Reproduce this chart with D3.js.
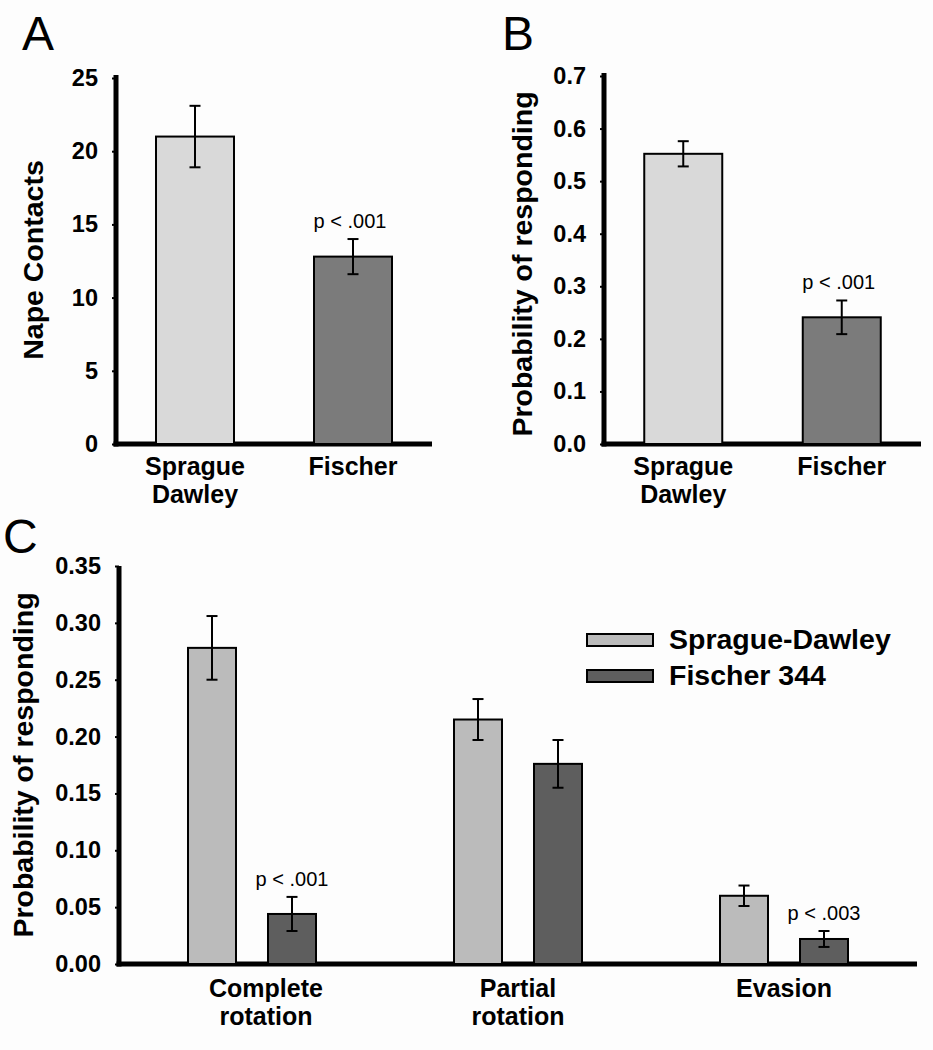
<!DOCTYPE html>
<html>
<head>
<meta charset="utf-8">
<script src="https://cdn.jsdelivr.net/npm/d3@7"></script>
<style>
  body { margin: 0; background: #fdfdfd; }
  svg { display: block; }
  text { font-family: "Liberation Sans", Arial, sans-serif; fill: #000; }
</style>
</head>
<body>
<div id="main"></div>
<script>
// panel A / B : two strains
const strainsAB = [["Sprague", "Dawley"], ["Fischer"]];
const napeMean = [21.0, 12.8];
const napeErr = [2.1, 1.2];
const napeTicks = [0, 5, 10, 15, 20, 25];

const probMean = [0.552, 0.241];
const probErr = [0.024, 0.032];
const probTicks = [0, 0.1, 0.2, 0.3, 0.4, 0.5, 0.6, 0.7];

const pLabelsAB = [null, "p < .001"];

// panel C : response types x strains
const responseTypes = [["Complete", "rotation"], ["Partial", "rotation"], ["Evasion"]];
const seriesC = ["Sprague-Dawley", "Fischer 344"];
const sdMeanC = [0.278, 0.215, 0.060];
const sdErrC = [0.028, 0.018, 0.009];
const fMeanC = [0.044, 0.176, 0.022];
const fErrC = [0.015, 0.021, 0.007];
const pLabelsC = ["p < .001", null, "p < .003"];
const ticksC = [0, 0.05, 0.10, 0.15, 0.20, 0.25, 0.30, 0.35];

const ctx = { w: 933, h: 1050 };

const svg = d3.select("#main").append("svg")
    .attr("width", ctx.w)
    .attr("height", ctx.h);

svg.append("rect")
    .attr("width", ctx.w).attr("height", ctx.h)
    .attr("fill", "#fdfdfd");

function drawAxes(g, x0, x1, y, ticks, fmt, yTop) {
    let axis = d3.axisLeft(y)
        .tickValues(ticks)
        .tickFormat(fmt)
        .tickSize(4)
        .tickPadding(14);
    let ax = g.append("g")
        .attr("transform", `translate(${x0},0)`)
        .call(axis);
    ax.select(".domain").remove();
    ax.selectAll(".tick line").attr("stroke", "#000").attr("stroke-width", 2);
    ax.selectAll(".tick text")
        .style("font-size", "23.5px")
        .style("font-weight", "bold")
        .attr("fill", "#000");
    // thick axis lines
    g.append("line")
        .attr("x1", x0).attr("x2", x0)
        .attr("y1", yTop).attr("y2", y(0) + 2.5)
        .attr("stroke", "#000").attr("stroke-width", 5);
    g.append("line")
        .attr("x1", x0 - 2.5).attr("x2", x1)
        .attr("y1", y(0)).attr("y2", y(0))
        .attr("stroke", "#000").attr("stroke-width", 5);
}

function drawBar(g, cx, w, y, mean, err, fill) {
    g.append("rect")
        .attr("x", cx - w / 2)
        .attr("y", y(mean))
        .attr("width", w)
        .attr("height", y(0) - y(mean))
        .attr("fill", fill)
        .attr("stroke", "#000")
        .attr("stroke-width", 2);
    let top = y(mean + err), bot = y(mean - err);
    g.append("line")
        .attr("x1", cx).attr("x2", cx).attr("y1", top).attr("y2", bot)
        .attr("stroke", "#000").attr("stroke-width", 2);
    [top, bot].forEach(v => {
        g.append("line")
            .attr("x1", cx - 5.5).attr("x2", cx + 5.5).attr("y1", v).attr("y2", v)
            .attr("stroke", "#000").attr("stroke-width", 2);
    });
}

function catLabel(g, cx, yBase, lines) {
    let t = g.append("text")
        .attr("text-anchor", "middle")
        .style("font-size", "25px")
        .style("font-weight", "bold");
    lines.forEach((l, i) => {
        t.append("tspan").attr("x", cx).attr("y", yBase + i * 28).text(l);
    });
}

function pLabel(g, cx, yBase, txt) {
    g.append("text")
        .attr("x", cx).attr("y", yBase)
        .attr("text-anchor", "middle")
        .style("font-size", "20px")
        .text(txt);
}

function yTitle(g, x, cy, txt) {
    g.append("text")
        .attr("transform", `translate(${x},${cy}) rotate(-90)`)
        .attr("text-anchor", "middle")
        .style("font-size", "28.5px")
        .style("font-weight", "bold")
        .text(txt);
}

function panelLetter(g, x, y, txt) {
    g.append("text")
        .attr("x", x).attr("y", y)
        .style("font-size", "48px")
        .text(txt);
}

// two-bar panel (A, B)
function twoBarPanel(opts) {
    let g = svg.append("g");
    let x = d3.scaleBand()
        .domain(d3.range(strainsAB.length))
        .range([opts.x0, opts.x1]);
    let y = d3.scaleLinear()
        .domain([0, opts.max])
        .range([opts.y0, opts.yMax]);
    drawAxes(g, opts.x0, opts.x1, y, opts.ticks, opts.fmt, opts.yMax - 3);
    const fills = ["#d9d9d9", "#7b7b7b"];
    opts.mean.forEach((m, i) => {
        let cx = x(i) + x.bandwidth() / 2;
        drawBar(g, cx, 78, y, m, opts.err[i], fills[i]);
        catLabel(g, cx, opts.y0 + 31, strainsAB[i]);
        if (pLabelsAB[i]) pLabel(g, cx - 3, y(m + opts.err[i]) - 11, pLabelsAB[i]);
    });
    yTitle(g, opts.titleX, opts.titleY, opts.title);
    panelLetter(g, opts.letterX, 50, opts.letter);
}

twoBarPanel({
    x0: 116, x1: 432, y0: 444, yMax: 78, max: 25,
    ticks: napeTicks, fmt: d3.format("d"),
    mean: napeMean, err: napeErr,
    title: "Nape Contacts", titleX: 43, titleY: 260,
    letter: "A", letterX: 22
});

twoBarPanel({
    x0: 604, x1: 921, y0: 444, yMax: 76, max: 0.7,
    ticks: probTicks, fmt: d3.format(".1f"),
    mean: probMean, err: probErr,
    title: "Probability of responding", titleX: 532, titleY: 264,
    letter: "B", letterX: 502
});

// panel C
(function () {
    let g = svg.append("g");
    let x0 = 119, x1 = 917, y0 = 964, yMax = 566;
    let x = d3.scaleBand()
        .domain(d3.range(responseTypes.length))
        .range([x0, x1]);
    let y = d3.scaleLinear()
        .domain([0, 0.35])
        .range([y0, yMax]);
    drawAxes(g, x0, x1, y, ticksC, d3.format(".2f"), yMax);
    const fills = ["#bbbbbb", "#5e5e5e"];
    responseTypes.forEach((lab, i) => {
        let cx = x(i) + x.bandwidth() / 2;
        drawBar(g, cx - 40, 48, y, sdMeanC[i], sdErrC[i], fills[0]);
        drawBar(g, cx + 40, 48, y, fMeanC[i], fErrC[i], fills[1]);
        catLabel(g, cx + (i == 0 ? 14 : 0), y0 + 33, lab);
        if (pLabelsC[i]) pLabel(g, cx + 40, y(fMeanC[i] + fErrC[i]) - 11, pLabelsC[i]);
    });
    yTitle(g, 33, 765, "Probability of responding");
    panelLetter(g, 3, 553, "C");

    // legend
    let leg = g.append("g").attr("transform", "translate(587,634)");
    seriesC.forEach((s, i) => {
        leg.append("rect")
            .attr("x", 0).attr("y", i * 36)
            .attr("width", 66).attr("height", 12)
            .attr("fill", fills[i])
            .attr("stroke", "#000").attr("stroke-width", 2);
        leg.append("text")
            .attr("x", 82).attr("y", i * 36 + 15)
            .style("font-size", "28.5px")
            .style("font-weight", "bold")
            .text(s);
    });
})();
</script>
</body>
</html>
